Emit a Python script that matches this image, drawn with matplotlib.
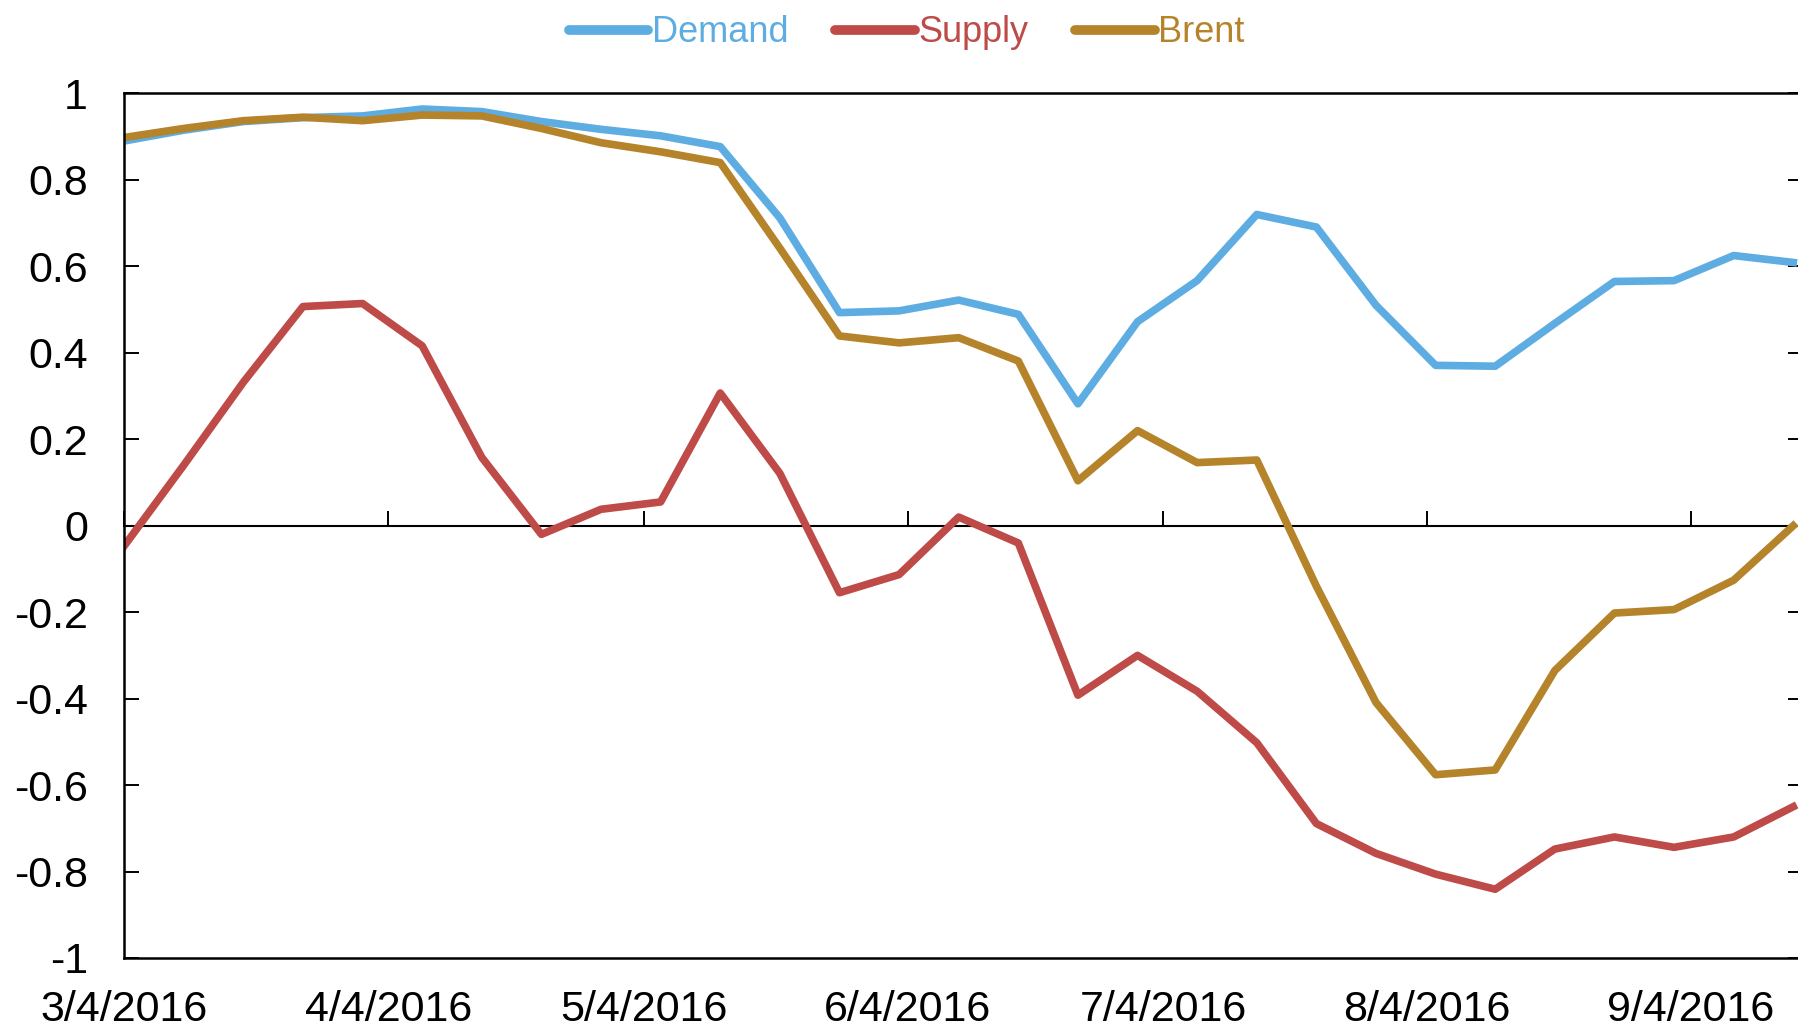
import matplotlib
matplotlib.use("Agg")
import matplotlib.pyplot as plt
import matplotlib.dates as mdates
from matplotlib.ticker import FixedLocator, FuncFormatter, NullFormatter
import pandas as pd

# weekly readings, first week 3/4/2016
start_date = "2016-03-04"
demand = [0.89, 0.915, 0.935, 0.944, 0.948, 0.964, 0.958, 0.935, 0.917, 0.902,
          0.877, 0.712, 0.493, 0.497, 0.522, 0.489, 0.282, 0.472, 0.567, 0.72,
          0.691, 0.51, 0.371, 0.369, 0.468, 0.565, 0.567, 0.625, 0.609]
supply = [-0.047, 0.14, 0.332, 0.507, 0.514, 0.416, 0.158, -0.02, 0.038, 0.055,
          0.307, 0.121, -0.155, -0.113, 0.02, -0.04, -0.392, -0.30, -0.383, -0.502,
          -0.689, -0.758, -0.806, -0.841, -0.748, -0.72, -0.744, -0.72, -0.65]
brent = [0.898, 0.919, 0.937, 0.945, 0.937, 0.95, 0.948, 0.919, 0.886, 0.865,
         0.84, 0.642, 0.439, 0.423, 0.435, 0.381, 0.104, 0.22, 0.146, 0.152,
         -0.14, -0.409, -0.576, -0.565, -0.335, -0.202, -0.194, -0.126, 0.0]

series_names = ["Demand", "Supply", "Brent"]
series_colors = ["#5DADE2", "#BE4B48", "#B5832A"]

x_tick_labels = ["3/4/2016", "4/4/2016", "5/4/2016", "6/4/2016",
                 "7/4/2016", "8/4/2016", "9/4/2016"]
y_ticks = [1, 0.8, 0.6, 0.4, 0.2, 0, -0.2, -0.4, -0.6, -0.8, -1]

plt.rcParams["font.family"] = ["Liberation Sans", "DejaVu Sans"]

dates = pd.date_range(start_date, periods=len(demand), freq="7D")
tick_dates = pd.to_datetime(x_tick_labels, format="%m/%d/%Y")

fig = plt.figure(figsize=(17.99, 10.28), dpi=100)
ax = fig.add_axes([0.069, 0.0681, 0.9335, 0.841])

for values, name, color in zip([demand, supply, brent], series_names, series_colors):
    ax.plot(dates, values, color=color, linewidth=5.5, label=name,
            solid_joinstyle="round")

ax.set_ylim(-1, 1)
ax.set_xlim(tick_dates[0], tick_dates[0] + pd.Timedelta(days=197.2))

ax.yaxis.set_major_locator(FixedLocator(y_ticks))
ax.yaxis.set_major_formatter(FuncFormatter(lambda v, p: f"{v:g}" if abs(v) > 1e-9 else "0"))
ax.tick_params(axis="y", which="major", left=True, right=True, direction="in",
               length=10.8, width=1.4, labelsize=31, pad=26)

ax.set_xticks(mdates.date2num(tick_dates))
ax.set_xticklabels(x_tick_labels)
ax.tick_params(axis="x", which="major", length=0, labelsize=31, pad=23)

for side in ["left", "right", "top", "bottom"]:
    ax.spines[side].set_linewidth(1.8)

# x axis crossing at zero, ticks pointing up
zero_axis = ax.secondary_xaxis(0.5)
zero_axis.set_xticks(mdates.date2num(tick_dates))
zero_axis.xaxis.set_major_formatter(NullFormatter())
zero_axis.tick_params(axis="x", direction="out", length=10.8, width=1.4)
zero_axis.spines["top"].set_linewidth(1.5)
zero_axis.spines["bottom"].set_linewidth(1.5)

leg = fig.legend(loc="center", bbox_to_anchor=(0.504, 0.968), ncol=3,
                 frameon=False, fontsize=26, handlelength=2.2,
                 handletextpad=0.1, columnspacing=1.3)
for handle in leg.legend_handles:
    handle.set_linewidth(7)
    handle.set_solid_capstyle("round")
for text, color in zip(leg.get_texts(), series_colors):
    text.set_color(color)

fig.savefig("out.png", dpi=100)
